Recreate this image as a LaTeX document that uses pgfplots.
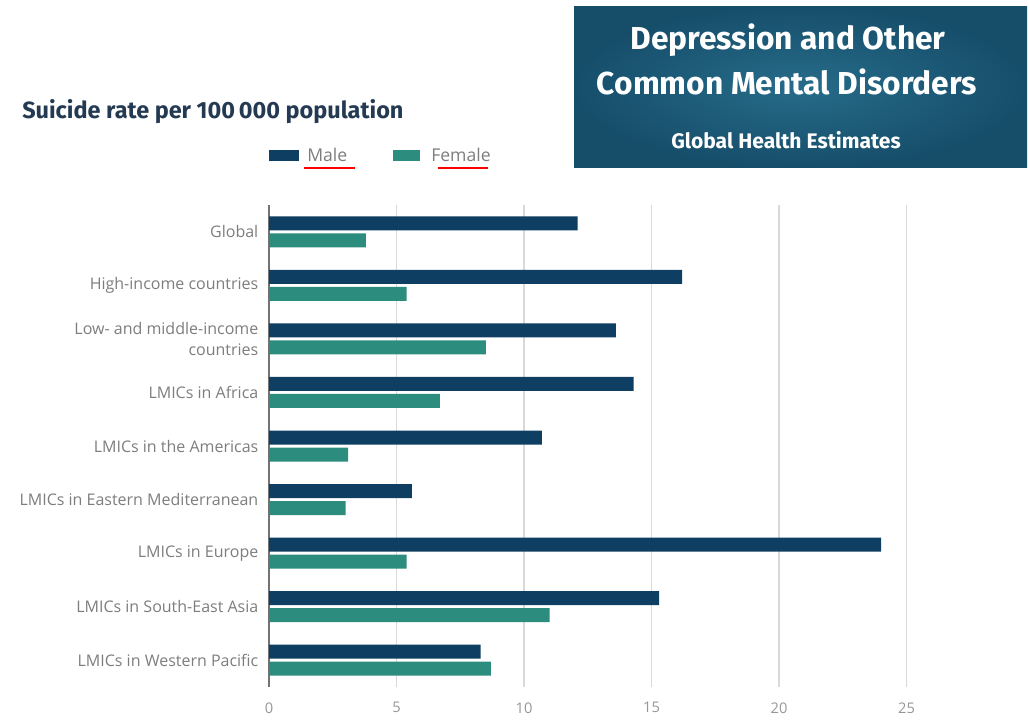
\documentclass[border=0pt]{standalone}
\usepackage{pgfplots}
\pgfplotsset{compat=1.18}
\usepackage{fontspec}
\setmainfont{Fira Sans}
\newfontfamily\opensans{Open Sans}
\definecolor{male}{RGB}{14,62,98}
\definecolor{female}{RGB}{44,140,126}
\definecolor{boxin}{RGB}{38,108,138}
\definecolor{boxout}{RGB}{22,78,106}
\definecolor{titlenavy}{RGB}{35,58,82}
\definecolor{lblgray}{RGB}{125,125,125}
\definecolor{tickgray}{RGB}{150,150,150}
\begin{document}
\begin{tikzpicture}
\begin{scope}[x=0.75pt,y=-0.75pt]
\useasboundingbox (0,0) rectangle (1030,721);
% title box
\shade[inner color=boxin, outer color=boxout] (574,6) rectangle (1027,167);
\node[text=white, font=\bfseries\fontsize{23.8pt}{27pt}\selectfont] at (788,40) {Depression and Other};
\node[text=white, font=\bfseries\fontsize{23.8pt}{27pt}\selectfont] at (787,82) {Common Mental Disorders};
\node[text=white, font=\bfseries\fontsize{15.8pt}{18pt}\selectfont] at (786,140) {Global Health Estimates};
% chart title
\node[anchor=west, text=titlenavy, font=\bfseries\fontsize{17.6pt}{20pt}\selectfont, inner sep=0pt] at (22,112) {Suicide rate per 100\,000 population};
% legend
\fill[male] (269,150) rectangle (299,161);
\node[anchor=west, text=lblgray, font=\opensans\fontsize{13.2pt}{15pt}\selectfont, inner sep=0pt] at (307,155) {Male};
\draw[red, line width=2.2pt] (304,168) -- (355,168);
\fill[female] (393,150) rectangle (420,161);
\node[anchor=west, text=lblgray, font=\opensans\fontsize{13.2pt}{15pt}\selectfont, inner sep=0pt] at (431,155) {Female};
\draw[red, line width=2.2pt] (438,168) -- (488,168);
\end{scope}
\begin{axis}[
  at={(201.75pt,-515.25pt)}, anchor=south west,
  scale only axis, width=497.25pt, height=361.5pt,
  xbar, xmin=0, xmax=26, ymin=-0.5, ymax=8.5,
  bar width=10.5pt,
  ytick={0,...,8},
  yticklabels={LMICs in Western Pacific, LMICs in South-East Asia, LMICs in Europe, LMICs in Eastern Mediterranean, LMICs in the Americas, LMICs in Africa, {Low- and middle-income\\countries}, High-income countries, Global},
  yticklabel style={align=right, text=lblgray, font=\opensans\fontsize{12pt}{16pt}\selectfont, xshift=-4.5pt},
  xtick={0,5,10,15,20,25},
  xticklabel style={text=tickgray, font=\opensans\fontsize{11pt}{12pt}\selectfont, yshift=-8pt},
  /pgf/number format/assume math mode=true,
  xmajorgrids, grid style={draw=black!15, line width=1pt},
  axis lines*=left,
  x axis line style={draw=none},
  y axis line style={draw=black!55, line width=1pt},
  major tick length=0pt,
  clip=false,
]
\addplot[fill=male, draw=none, bar shift=6.375pt] coordinates {
(8.3,0) (15.3,1) (24.0,2) (5.6,3) (10.7,4) (14.3,5) (13.6,6) (16.2,7) (12.1,8)};
\addplot[fill=female, draw=none, bar shift=-6.375pt] coordinates {
(8.7,0) (11.0,1) (5.4,2) (3.0,3) (3.1,4) (6.7,5) (8.5,6) (5.4,7) (3.8,8)};
\end{axis}
\end{tikzpicture}
\end{document}
